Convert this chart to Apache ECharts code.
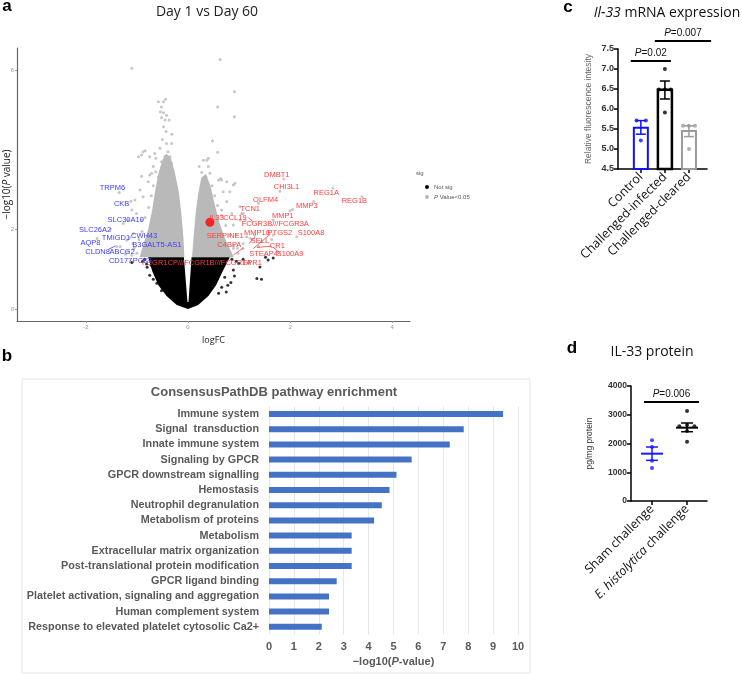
<!DOCTYPE html>
<html><head><meta charset="utf-8">
<script src="https://cdn.jsdelivr.net/npm/echarts@6/dist/echarts.min.js"></script>
<style>html,body{margin:0;padding:0;background:#fff}#c{width:742px;height:675px}</style>
</head><body><div id="c"></div>
<script>
// ---------- Panel a: volcano ----------
const volcanoXTicks = [-2, 0, 2, 4];
const volcanoYTicks = [0, 2, 6];
// dense clouds (outlines of the dense point regions, data coords)
const grayClouds = [
  [[-0.95,1.3],[-0.88,1.6],[-0.78,2.0],[-0.7,2.5],[-0.64,3.0],[-0.58,3.4],[-0.5,3.75],[-0.42,3.9],[-0.34,3.8],[-0.26,3.45],[-0.18,2.95],[-0.13,2.4],[-0.09,1.8],[-0.07,1.3]],
  [[0.08,1.3],[0.11,1.8],[0.15,2.4],[0.2,2.9],[0.26,3.3],[0.35,3.4],[0.44,3.1],[0.52,2.65],[0.62,2.15],[0.75,1.7],[0.9,1.3]]
];
const blackCloud = [[-0.78,1.3],[-0.7,0.95],[-0.58,0.6],[-0.42,0.33],[-0.22,0.1],[0,0],[0.2,0.1],[0.4,0.33],[0.55,0.6],[0.68,0.95],[0.82,1.3],[0.07,1.3],[0.01,0.18],[-0.01,0.18],[-0.08,1.3]];
const grayPoints = [
  [-1.10,6.05],[0.63,6.27],[0.91,5.46],[0.58,5.08],[0.91,4.83],[0.48,4.22],[0.58,3.94],
  [-0.58,5.21],[-0.48,5.21],[-0.44,5.27],[-0.52,5.08],[-0.54,4.96],[-0.48,4.93],[-0.42,4.87],[-0.52,4.81],[-0.45,4.75],[-0.37,4.75],[-0.48,4.58],[-0.43,4.46],[-0.32,4.39],[-0.50,4.26],[-0.42,4.16],[-0.32,4.16],[-0.55,4.04],[-0.39,3.95],[-0.84,3.98],[-0.91,3.87],[-0.75,3.83],[-0.65,3.91],[-0.63,3.79],[-0.45,3.84],[-0.35,3.83],[-0.52,3.70],[-0.32,3.66],[-0.68,3.58],[-0.45,3.58],[-0.75,3.37],[-0.91,3.34],[-0.58,3.32],
  [0.30,3.74],[0.40,3.79],[0.22,3.58],[0.40,3.58],[0.27,3.43],[0.43,3.41],[0.35,3.32],[0.64,3.28],[0.37,3.74],
  [0.60,3.24],[0.76,3.2],[0.92,3.16],[0.82,2.95],[0.66,3.24],[0.89,3.12],[0.69,2.95],[0.76,2.70],[1.02,2.57],[0.66,2.49],[0.86,2.40],[0.89,2.11],[1.12,2.24],[0.95,1.86],[1.15,1.82],[1.44,1.69],[1.38,1.57],[1.08,1.53],[0.89,1.53],[1.05,2.4],[1.02,2.24],[1.31,1.86],[1.67,1.86],[1.22,1.78],[1.08,1.65],[0.97,1.53],
  [-0.88,3.95],[-0.97,3.83],[-0.71,3.41],[-0.78,3.2],[-0.94,2.99],[-0.88,2.82],[-1.04,2.74],[-1.10,2.49],[-1.01,2.40],[-1.17,2.24],[-1.27,2.15],[-1.07,1.90],[-1.20,1.73],[-1.33,1.57],
  [-1.0,1.4],[-1.05,1.55],[-0.96,1.75],[-0.9,1.95],[-0.84,2.3],[-0.77,2.55],[-0.72,2.85],[-0.68,3.1],[-0.63,3.45],[-1.1,1.35],[-1.18,1.45],[-1.08,1.65],[-1.22,1.38],
  [0.98,1.4],[0.9,1.6],[0.82,1.85],[0.74,2.1],[0.66,2.35],[0.58,2.6],[0.52,2.85],[0.47,3.1],
  [-1.35,2.93],[-1.12,2.71],[-0.91,2.24],[-1.52,2.0],[-1.78,1.77],[-1.14,1.80],[-1.07,1.51],[-1.40,1.57],
  [1.88,3.27],[1.80,2.96],[2.84,3.04],[3.41,2.82],[1.38,2.66],[2.46,2.70],[2.0,2.47],[2.05,2.5],[2.13,1.82],[1.64,1.75],[1.08,2.4],[1.67,2.24]
];
const blackPoints = [
  [1.44,0.75],[1.35,0.77],[0.89,0.98],[0.91,0.83],[0.84,0.67],[0.78,0.6],[0.75,0.43],[1.08,1.25],[1.67,1.28],[1.52,1.3],[1.57,1.23],[1.41,1.06],[1.0,1.15],[0.95,1.2],[0.86,1.25],[0.72,0.8],[0.66,0.55],[0.6,0.4],
  [-0.75,0.85],[-0.80,1.05],[-1.10,1.17],[-0.89,1.2],[-0.81,1.13],[-0.61,0.65],[-0.52,0.46],[-0.85,1.25],[-0.68,0.75],[-0.72,1.1]
];
const il33Point = [[0.43, 2.18]];
const upGenes = ['DMBT1','CHI3L1','REG1A','REG1B','OLFM4','MMP3','TCN1','MMP1','IL33','CCL19','FCGR3B///FCGR3A','MMP10','PTGS2','S100A8','SERPINE1','SELL','CR1','C4BPA','STEAP4','S100A9','FCGR1CP///FCGR1B///FCGR1A','FPR1'];
const upLabelAt = [[1.74,3.38],[1.93,3.07],[2.71,2.93],[3.26,2.71],[1.52,2.75],[2.33,2.58],[1.22,2.51],[1.86,2.35],[0.56,2.29],[0.92,2.28],[1.71,2.14],[1.35,1.91],[1.80,1.91],[2.41,1.92],[0.73,1.83],[1.41,1.71],[1.75,1.59],[0.81,1.60],[1.48,1.38],[2.0,1.38],[0.17,1.15],[1.26,1.16]];
const downGenes = ['TRPM6','CKB','SLC30A10','SLC26A2','TMIGD1','CWH43','AQP8','B3GALT5-AS1','CLDN8','ABCG2','CD177','PCK1'];
const downLabelAt = [[-1.48,3.05],[-1.30,2.65],[-1.22,2.25],[-1.82,2.0],[-1.41,1.79],[-0.86,1.85],[-1.91,1.65],[-0.61,1.61],[-1.77,1.44],[-1.29,1.44],[-1.32,1.21],[-0.89,1.21]];
const upLeaders = [[[1.18,2.30],[1.28,2.19]],[[1.31,1.82],[1.20,1.65]],[[1.61,1.88],[1.28,1.52]],[[1.64,1.58],[1.35,1.55]],[[1.81,1.40],[1.67,1.55]],[[1.08,1.53],[0.89,1.36]]];
const downLeaders = [[[-1.56,1.5],[-1.43,1.58]]];

// ---------- Panel b: pathway enrichment ----------
const pathways = ['Immune system','Signal  transduction','Innate immune system','Signaling by GPCR','GPCR downstream signalling','Hemostasis','Neutrophil degranulation','Metabolism of proteins','Metabolism','Extracellular matrix organization','Post-translational protein modification','GPCR ligand binding','Platelet activation, signaling and aggregation','Human complement system','Response to elevated platelet cytosolic Ca2+'];
const pathwayLogP = [9.4, 7.82, 7.26, 5.73, 5.12, 4.84, 4.53, 4.22, 3.32, 3.32, 3.32, 2.72, 2.41, 2.41, 2.12];

// ---------- Panel c: Il-33 mRNA ----------
const mrnaGroups = ['Control','Challenged-infected','Challenged-cleared'];
const mrnaMeans = [5.53, 6.48, 5.45];
const mrnaSemLow = [5.37, 6.25, 5.31];
const mrnaSemHigh = [5.71, 6.70, 5.58];
const mrnaPoints = [
  [[0.82,5.71],[1.21,5.71],[1.0,5.21]],
  [[2.0,7.0],[1.75,6.49],[2.0,6.49],[2.24,6.49],[2.0,5.91]],
  [[2.75,5.58],[3.0,5.58],[3.25,5.58],[3.0,5.0]]
];
const mrnaSig = [[0.58,2.25,7.2],[1.58,3.92,7.7]];
const mrnaSigP = ['0.02','0.007'];

// ---------- Panel d: IL-33 protein ----------
const protGroups = ['Sham challenge','E. histolytica challenge'];
const protMeans = [1646, 2550];
const protSemLow = [1414, 2410];
const protSemHigh = [1878, 2713];
const protPoints = [
  [[1,2110],[1,1880],[1,1400],[1,1150]],
  [[2,3130],[1.78,2600],[2,2640],[2.21,2600],[2,2435],[2,2060]]
];
const protSig = [[0.77,2.34,3443]];
const protSigP = ['0.006'];

// ---------- chart ----------
const GRAY = '#b9b9b9';
const RED = '#ff3d3d';
const BLUE = '#3d3dff';
const mrnaColors = ['#1010ff','#000000','#9a9a9a'];
const protColors = ['#1a1aff','#000000'];
const MRNA_MIN = 4.5;
const AR = 'Liberation Sans, Arial, sans-serif';
const OS = 'Open Sans, sans-serif';

const chart = echarts.init(document.getElementById('c'), null, {renderer:'canvas'});

function polySeries(name, polys, color, z){
  return {type:'custom', name, xAxisIndex:0, yAxisIndex:0, z, silent:true,
    data: polys.map((p,i)=>[p[0][0], p[0][1], i]),
    renderItem:(params, api)=>({type:'polygon', shape:{points: polys[params.dataIndex].map(q=>api.coord(q))}, style:{fill:color}})};
}
function textSeries(names, pos, color){
  return {type:'custom', xAxisIndex:0, yAxisIndex:0, z:10, silent:true,
    data: pos.map((p,i)=>[p[0],p[1],i]),
    renderItem:(params, api)=>{const c=api.coord([api.value(0),api.value(1)]);
      return {type:'text', x:c[0], y:c[1], style:{text:names[params.dataIndex], fill:color, font:'7.5px '+AR, align:'center', verticalAlign:'middle'}};}};
}
function leaderSeries(lines, color){
  return {type:'custom', xAxisIndex:0, yAxisIndex:0, z:9, silent:true,
    data: lines.map((l,i)=>[l[0][0],l[0][1],i]),
    renderItem:(params, api)=>{const l=lines[params.dataIndex]; const a=api.coord(l[0]), b=api.coord(l[1]);
      return {type:'line', shape:{x1:a[0],y1:a[1],x2:b[0],y2:b[1]}, style:{stroke:color, lineWidth:0.8}};}};
}
function errSeries(ax, lows, highs, colors, cap, meanHalf, means){
  return {type:'custom', xAxisIndex:ax, yAxisIndex:ax, z:5, silent:true,
    data: lows.map((v,i)=>[i+1, v, highs[i], i]),
    renderItem:(params, api)=>{
      const i=params.dataIndex, x=api.value(0);
      const lo=api.coord([x,api.value(1)]), hi=api.coord([x,api.value(2)]);
      const col=colors[i];
      const ch=[
        {type:'line', shape:{x1:lo[0],y1:lo[1],x2:hi[0],y2:hi[1]}, style:{stroke:col,lineWidth:1.5}},
        {type:'line', shape:{x1:lo[0]-cap,y1:lo[1],x2:lo[0]+cap,y2:lo[1]}, style:{stroke:col,lineWidth:1.5}},
        {type:'line', shape:{x1:hi[0]-cap,y1:hi[1],x2:hi[0]+cap,y2:hi[1]}, style:{stroke:col,lineWidth:1.5}}
      ];
      if(meanHalf){const m=api.coord([x,means[i]]); ch.push({type:'line', shape:{x1:m[0]-meanHalf,y1:m[1],x2:m[0]+meanHalf,y2:m[1]}, style:{stroke:col,lineWidth:2}});}
      return {type:'group', children:ch};
    }};
}
function sigSeries(ax, sig, ps){
  return {type:'custom', xAxisIndex:ax, yAxisIndex:ax, z:6, silent:true, clip:false,
    data: sig.map((s,i)=>[s[0], s[2], i]),
    renderItem:(params, api)=>{const s=sig[params.dataIndex];
      const a=api.coord([s[0],s[2]]), b=api.coord([s[1],s[2]]);
      return {type:'group', children:[
        {type:'line', shape:{x1:a[0],y1:a[1],x2:b[0],y2:b[1]}, style:{stroke:'#000',lineWidth:2}},
        {type:'text', x:(a[0]+b[0])/2, y:a[1]-3, style:{text:'{i|P}=' + ps[params.dataIndex], rich:{i:{font:'italic 10px '+AR, fill:'#111'}}, font:'10px '+AR, fill:'#111', align:'center', verticalAlign:'bottom'}}
      ]};}};
}
function dotSeries(ax, pts, color, size){
  return {type:'scatter', xAxisIndex:ax, yAxisIndex:ax, z:7, silent:true, symbolSize:size, itemStyle:{color}, data:pts};
}

const option = {
  backgroundColor:'#fff',
  animation:false,
  graphic:[
    {type:'text', x:7, y:6, style:{text:'a', font:'bold 17px '+AR, fill:'#000', align:'center', verticalAlign:'middle'}},
    {type:'text', x:207, y:12, style:{text:'Day 1 vs Day 60', font:'14px '+OS, fill:'#222', align:'center', verticalAlign:'middle'}},
    {type:'text', x:416, y:173, style:{text:'sig', font:'6px '+AR, fill:'#555', align:'left', verticalAlign:'middle'}},
    {type:'text', x:7, y:356, style:{text:'b', font:'bold 17px '+AR, fill:'#000', align:'center', verticalAlign:'middle'}},
    {type:'rect', shape:{x:22, y:379, width:508, height:294}, style:{fill:'none', stroke:'#e4e4e4', lineWidth:1}},
    {type:'text', x:274, y:392, style:{text:'ConsensusPathDB pathway enrichment', font:'bold 13px '+AR, fill:'#595959', align:'center', verticalAlign:'middle'}},
    {type:'text', x:568, y:7, style:{text:'c', font:'bold 17px '+AR, fill:'#000', align:'center', verticalAlign:'middle'}},
    {type:'text', x:667, y:13, style:{text:'{i|Il-33} mRNA expression', rich:{i:{font:'italic 14px '+OS, fill:'#111'}}, font:'14px '+OS, fill:'#111', align:'center', verticalAlign:'middle'}},
    {type:'text', x:572, y:348, style:{text:'d', font:'bold 17px '+AR, fill:'#000', align:'center', verticalAlign:'middle'}},
    {type:'text', x:652, y:352, style:{text:'IL-33 protein', font:'14px '+OS, fill:'#111', align:'center', verticalAlign:'middle'}}
  ],
  legend:{
    orient:'vertical', left:420, top:179, itemWidth:4, itemHeight:4, itemGap:4,
    textStyle:{fontSize:6, color:'#555', fontFamily:AR, rich:{i:{fontStyle:'italic', fontSize:6, color:'#555'}}},
    formatter:(n)=> n==='P Value<0.05' ? '{i|P} Value<0.05' : n,
    data:[{name:'Not sig', icon:'circle', itemStyle:{color:'#000'}},{name:'P Value<0.05', icon:'circle', itemStyle:{color:GRAY}}],
    selectedMode:false
  },
  grid:[
    {left:17, top:48, width:393, height:273, outerBoundsMode:'none', containLabel:false},
    {left:269, top:406.4, width:249, height:228, outerBoundsMode:'none', containLabel:false},
    {left:618, top:49, width:89, height:120, outerBoundsMode:'none', containLabel:false},
    {left:631, top:386, width:76, height:115, outerBoundsMode:'none', containLabel:false}
  ],
  xAxis:[
    {type:'value', gridIndex:0, min:-3.35, max:4.35,
      axisLine:{show:true, onZero:false, lineStyle:{color:'#666', width:1.2}},
      axisTick:{show:true, customValues:volcanoXTicks, length:2, lineStyle:{color:'#999'}},
      axisLabel:{customValues:volcanoXTicks, fontSize:6, color:'#999', margin:3, fontFamily:AR},
      splitLine:{show:false},
      name:'logFC', nameLocation:'middle', nameGap:15, nameMoveOverlap:false, nameTextStyle:{fontSize:9, color:'#222', fontFamily:OS}},
    {type:'value', gridIndex:1, min:0, max:10, interval:1,
      axisLine:{show:false}, axisTick:{show:false},
      axisLabel:{fontSize:11, fontWeight:'bold', color:'#595959', margin:7, fontFamily:AR},
      splitLine:{show:true, lineStyle:{color:'#e6e6e6', width:1}},
      name:'−log10({i|P}-value)', nameLocation:'middle', nameGap:22, nameMoveOverlap:false,
      nameTextStyle:{fontSize:11, fontWeight:'bold', color:'#595959', fontFamily:AR, rich:{i:{fontStyle:'italic', fontWeight:'bold', fontSize:11, color:'#595959'}}}},
    {type:'value', gridIndex:2, min:0.05, max:3.75,
      axisLine:{show:true, onZero:false, lineStyle:{color:'#000', width:1.5}},
      axisTick:{show:true, customValues:[1,2,3], length:4, lineStyle:{color:'#000', width:1.5}},
      axisLabel:{customValues:[1,2,3], formatter:(v)=>mrnaGroups[Math.round(v)-1], rotate:45, fontSize:12.5, color:'#111', margin:6, fontFamily:OS},
      splitLine:{show:false}},
    {type:'value', gridIndex:3, min:0.4, max:2.57,
      axisLine:{show:true, onZero:false, lineStyle:{color:'#000', width:1.5}},
      axisTick:{show:true, customValues:[1,2], length:4, lineStyle:{color:'#000', width:1.5}},
      axisLabel:{customValues:[1,2], formatter:(v)=> Math.round(v)===2 ? '{i|E. histolytica} challenge' : protGroups[0], rotate:45, fontSize:12.5, color:'#111', margin:6, fontFamily:OS,
        rich:{i:{fontStyle:'italic', fontSize:12.5, color:'#111', fontFamily:OS}}},
      splitLine:{show:false}}
  ],
  yAxis:[
    {type:'value', gridIndex:0, min:-0.3, max:6.56,
      axisLine:{show:true, onZero:false, lineStyle:{color:'#666', width:1.2}},
      axisTick:{show:true, customValues:volcanoYTicks, length:2, lineStyle:{color:'#999'}},
      axisLabel:{customValues:volcanoYTicks, fontSize:6, color:'#999', margin:3, fontFamily:AR},
      splitLine:{show:false},
      name:'−log10({i|P} value)', nameLocation:'middle', nameGap:5, nameRotate:90, nameMoveOverlap:false,
      nameTextStyle:{fontSize:10, color:'#222', fontFamily:OS, rich:{i:{fontStyle:'italic', fontSize:10, color:'#222', fontFamily:OS}}}},
    {type:'category', gridIndex:1, data:pathways, inverse:true,
      axisLine:{show:false}, axisTick:{show:false},
      axisLabel:{fontSize:10.8, fontWeight:'bold', color:'#595959', margin:10, fontFamily:AR}},
    {type:'value', gridIndex:2, min:4.5, max:7.5, interval:0.5,
      axisLine:{show:true, onZero:false, lineStyle:{color:'#000', width:1.5}},
      axisTick:{show:true, length:4, lineStyle:{color:'#000', width:1.5}},
      axisLabel:{formatter:(v)=>v.toFixed(1), fontSize:9, fontWeight:'bold', color:'#333', margin:4, fontFamily:AR},
      splitLine:{show:false},
      name:'Relative fluorescence intesity', nameLocation:'middle', nameGap:25, nameRotate:90, nameMoveOverlap:false,
      nameTextStyle:{fontSize:8.5, color:'#666', fontFamily:AR}},
    {type:'value', gridIndex:3, min:0, max:4000, interval:1000,
      axisLine:{show:true, onZero:false, lineStyle:{color:'#000', width:1.5}},
      axisTick:{show:true, length:4, lineStyle:{color:'#000', width:1.5}},
      axisLabel:{formatter:(v)=>String(v), fontSize:8.5, fontWeight:'bold', color:'#333', margin:4, fontFamily:AR},
      splitLine:{show:false},
      name:'pg/mg protein', nameLocation:'middle', nameGap:37, nameRotate:90, nameMoveOverlap:false,
      nameTextStyle:{fontSize:8.5, color:'#333', fontFamily:AR}}
  ],
  series:[
    polySeries('P Value<0.05', grayClouds, GRAY, 1),
    polySeries('Not sig', [blackCloud], '#000', 2),
    {type:'scatter', name:'P Value<0.05', xAxisIndex:0, yAxisIndex:0, symbolSize:3, itemStyle:{color:GRAY}, data:grayPoints, z:3, silent:true},
    {type:'scatter', name:'Not sig', xAxisIndex:0, yAxisIndex:0, symbolSize:3, itemStyle:{color:'#000'}, data:blackPoints, z:3, silent:true},
    {type:'scatter', xAxisIndex:0, yAxisIndex:0, symbolSize:9, itemStyle:{color:'#ff0000'}, data:il33Point, z:8, silent:true},
    leaderSeries(upLeaders, RED),
    leaderSeries(downLeaders, BLUE),
    textSeries(upGenes, upLabelAt, RED),
    textSeries(downGenes, downLabelAt, BLUE),
    // panel b
    {type:'bar', xAxisIndex:1, yAxisIndex:1, data:pathwayLogP, barWidth:6, itemStyle:{color:'#4472c4'}, silent:true},
    // panel c bars
    {type:'custom', xAxisIndex:2, yAxisIndex:2, z:4, silent:true,
      data: mrnaMeans.map((v,i)=>[i+1, v]),
      renderItem:(params, api)=>{const x=api.value(0); const b=api.coord([x, MRNA_MIN]); const t=api.coord([x, api.value(1)]);
        const i=params.dataIndex;
        return {type:'rect', shape:{x:t[0]-7, y:t[1], width:14, height:b[1]-t[1]}, style:{fill:'#fff', stroke:mrnaColors[i], lineWidth: i===1?2.5:2}};}},
    errSeries(2, mrnaSemLow, mrnaSemHigh, mrnaColors, 5, 0, null),
    dotSeries(2, mrnaPoints[0], mrnaColors[0], 4),
    dotSeries(2, mrnaPoints[1], mrnaColors[1], 4),
    dotSeries(2, mrnaPoints[2], mrnaColors[2], 4),
    sigSeries(2, mrnaSig, mrnaSigP),
    // panel d
    errSeries(3, protSemLow, protSemHigh, protColors, 6, 11, protMeans),
    dotSeries(3, protPoints[0], protColors[0], 4),
    dotSeries(3, protPoints[1], protColors[1], 4),
    sigSeries(3, protSig, protSigP)
  ]
};
chart.setOption(option);
</script></body></html>
